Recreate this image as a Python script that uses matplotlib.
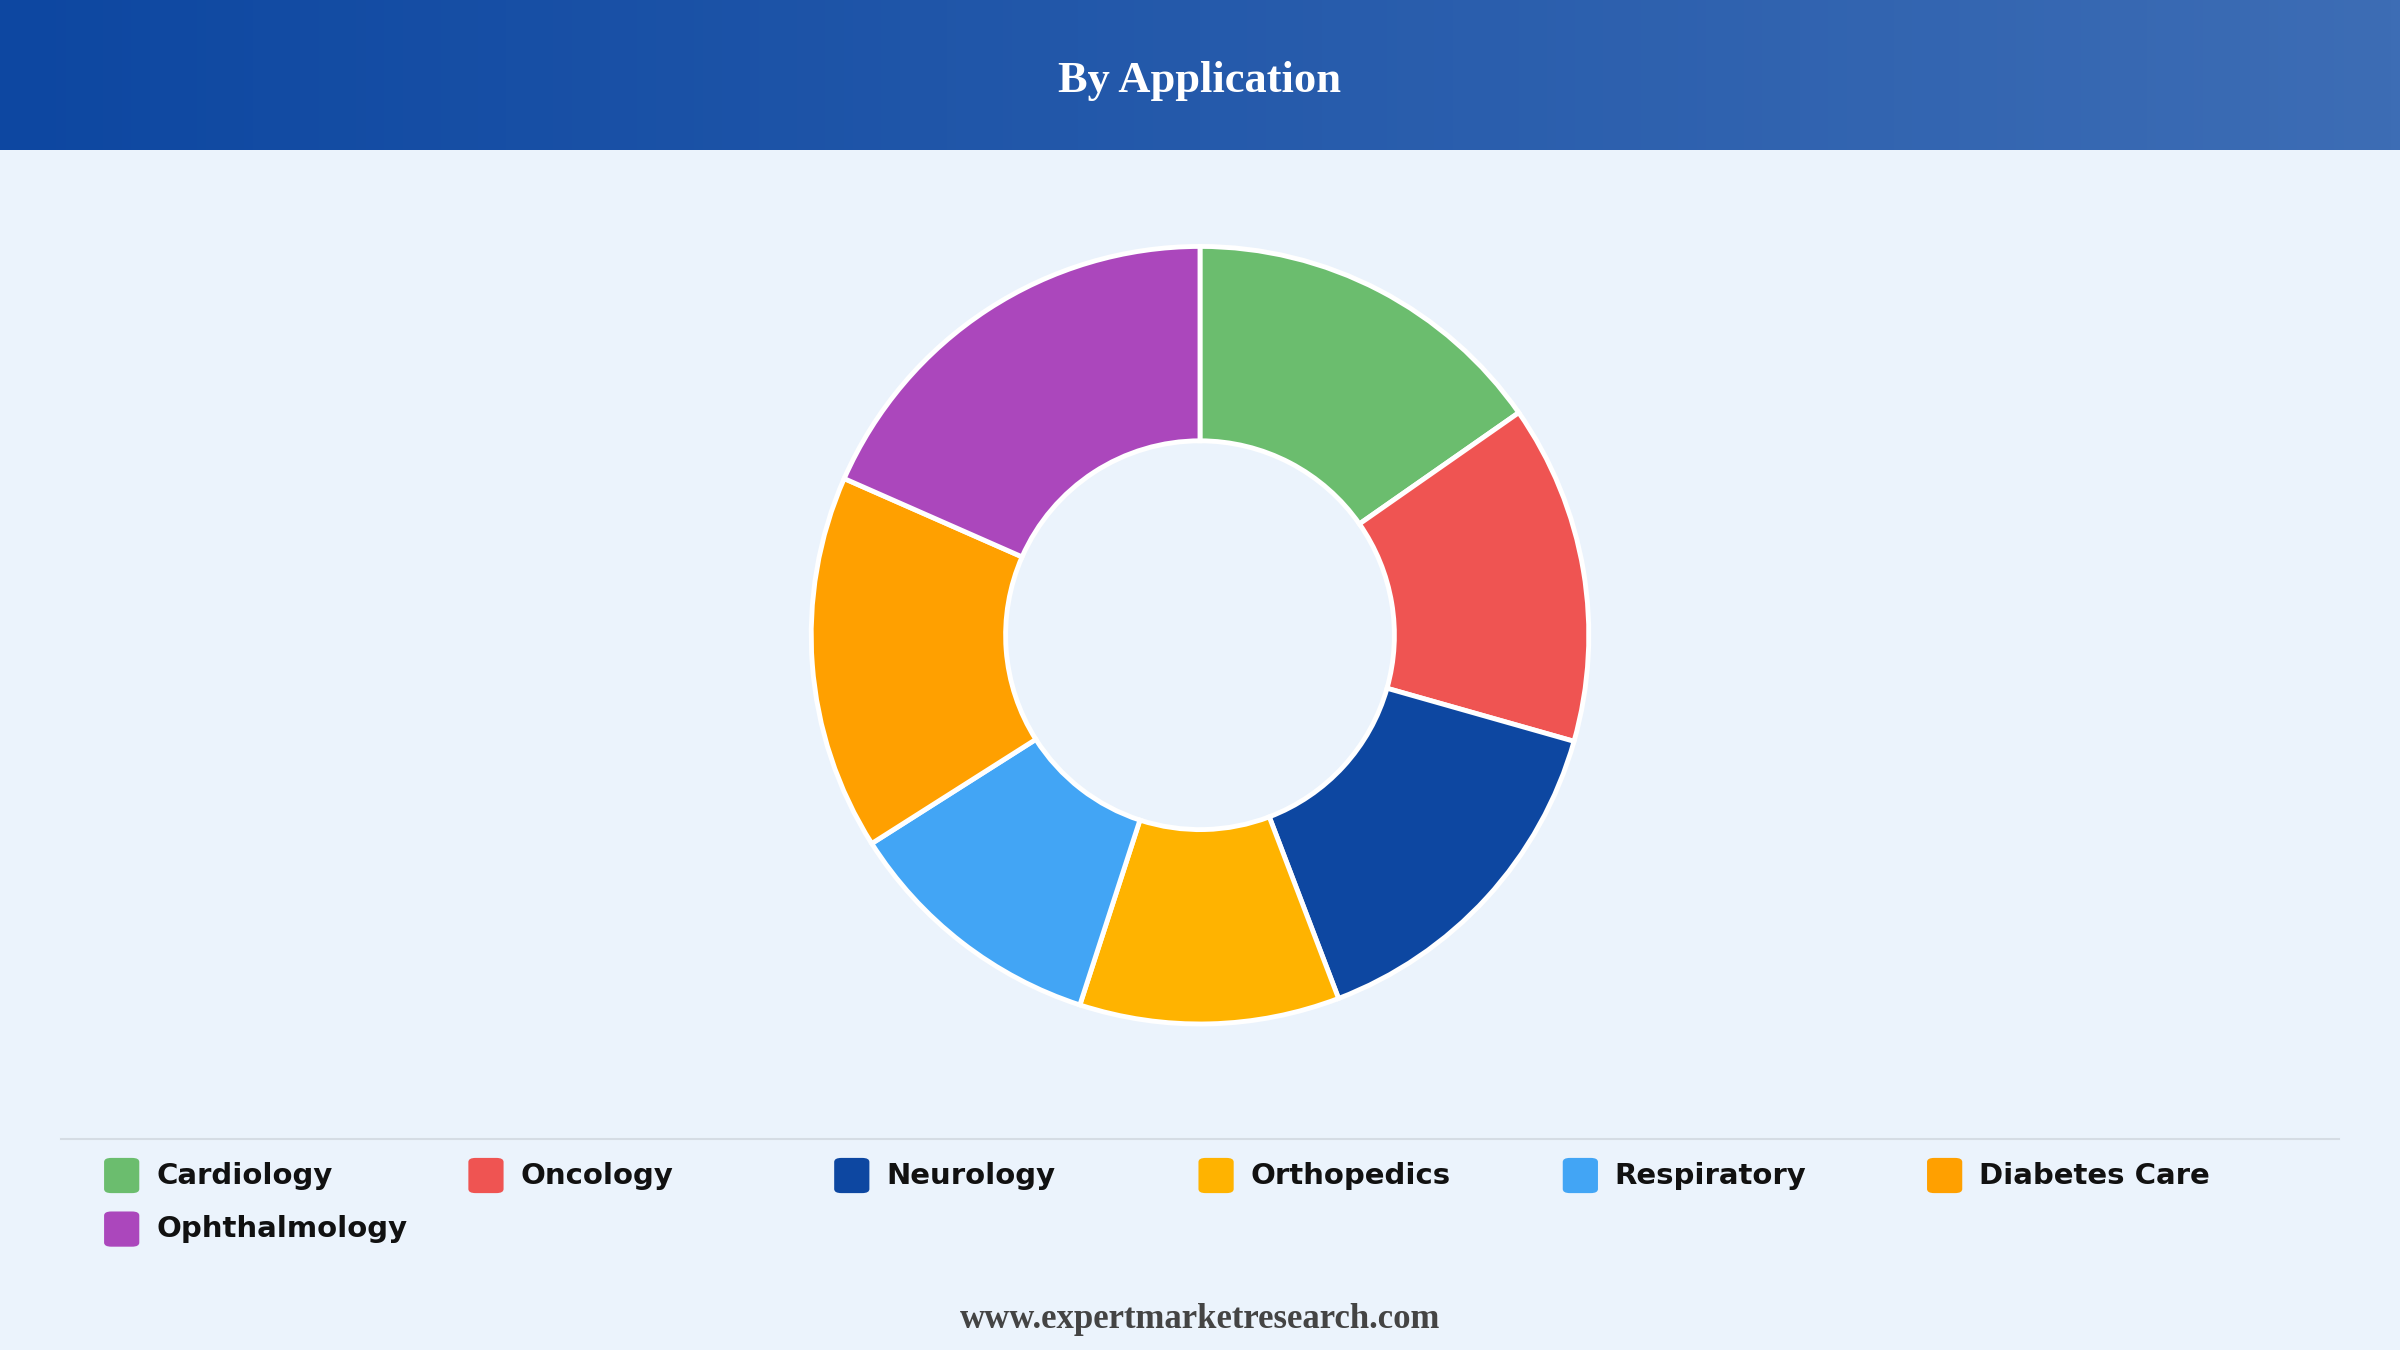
import matplotlib

matplotlib.use("Agg")
import matplotlib.pyplot as plt
import numpy as np
from matplotlib.patches import FancyBboxPatch

categories = ["Cardiology", "Oncology", "Neurology", "Orthopedics", "Respiratory",
              "Diabetes Care", "Ophthalmology"]
shares = [15.3, 14.1, 14.8, 10.8, 11.0, 15.6, 18.4]
colors = ["#6BBD6E", "#EF5452", "#0D47A1", "#FFB300", "#42A5F5", "#FFA000", "#AB47BC"]

BG = "#EBF3FC"
W, H = 1568, 882  # layout units (scaled to figure)

fig = plt.figure(figsize=(24, 13.5), dpi=100, facecolor=BG)

# header band with gradient
hdr = fig.add_axes([0, 1 - 98 / H, 1, 98 / H])
grad = np.linspace(0, 1, 256).reshape(1, -1)
cmap = matplotlib.colors.LinearSegmentedColormap.from_list("hdr", ["#0D47A1", "#3D6DB5"])
hdr.imshow(grad, aspect="auto", cmap=cmap, extent=[0, 1, 0, 1])
hdr.set_axis_off()
fig.text(0.5, 1 - 53 / H, "By Application", ha="center", va="center", color="white",
         fontsize=32, fontweight="bold", family="Liberation Serif")

# donut
ph = 2 * 254 / H
pw = ph * H / W
ax = fig.add_axes([0.5 - pw / 2, 1 - 415 / H - ph / 2, pw, ph])
ax.pie(shares, colors=colors, startangle=90, counterclock=False, radius=1,
       wedgeprops=dict(width=0.5, edgecolor="white", linewidth=3.5))
ax.set_xlim(-1, 1)
ax.set_ylim(-1, 1)
ax.set_aspect("equal")
ax.set_axis_off()

# separator
fig.add_artist(plt.Line2D([40 / W, 1528 / W], [1 - 744 / H] * 2, color="#D5DCE4", lw=1.5))

# legend
xs = [68, 306, 545, 783, 1021, 1259]
for i, (cat, col) in enumerate(zip(categories, colors)):
    x = xs[i % 6]
    y = 768 if i < 6 else 803
    sq = 23
    fig.add_artist(FancyBboxPatch((x / W, 1 - (y + sq / 2) / H), sq / W, sq / H,
                                  boxstyle="round,pad=0,rounding_size=0.003",
                                  transform=fig.transFigure, facecolor=col, edgecolor="none"))
    fig.text((x + 34) / W, 1 - y / H, cat, ha="left", va="center", fontsize=21,
             fontweight="bold", color="#111111", family="DejaVu Sans")

fig.text(0.5, 1 - 862 / H, "www.expertmarketresearch.com", ha="center", va="center",
         fontsize=25, fontweight="bold", color="#444444", family="Liberation Serif")

fig.savefig("out.png", dpi=100, facecolor=BG)
